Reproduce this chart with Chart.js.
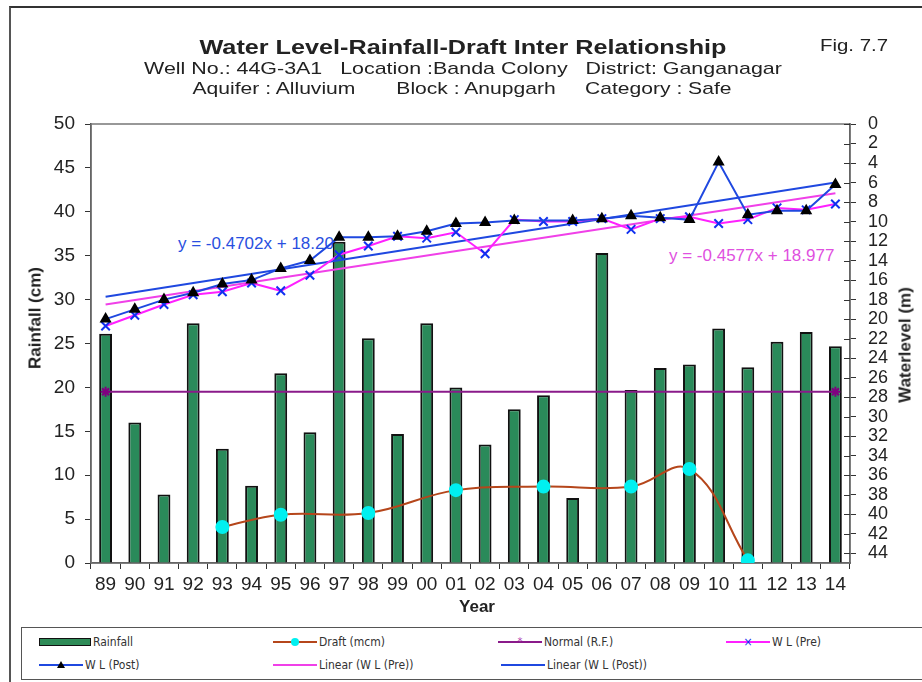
<!DOCTYPE html>
<html lang="en">
<head>
  <meta charset="UTF-8" />
  <title>Water Level-Rainfall-Draft Inter Relationship</title>
  <style>
    html, body {
      margin: 0;
      padding: 0;
      width: 922px;
      height: 682px;
      overflow: hidden;
      background: #fff;
      font-family: "Liberation Sans", Arial, sans-serif;
      color: #222;
    }
    #wrap { position: relative; width: 922px; height: 682px; }
    #chart { position: absolute; left: 0; top: 0; z-index: 2; }
    #frame {
      position: absolute; left: 9px; top: 6px; width: 930px; height: 700px;
      border-top: 2px solid #333; border-left: 2px solid #555;
    }
    .txt { position: absolute; white-space: pre; line-height: 1; z-index: 3; }
    #title { left: 463px; top: 36px; font-size: 21px; font-weight: bold; transform: translateX(-50%) scaleX(1.2); }
    #sub1 { left: 463px; top: 60px; font-size: 17px; transform: translateX(-50%) scaleX(1.26); }
    #sub2 { left: 462px; top: 80px; font-size: 17px; transform: translateX(-50%) scaleX(1.24); }
    #fig { left: 820px; top: 37px; font-size: 17px; transform-origin: left; transform: scaleX(1.2); }
    .axt { font-size: 17px; font-weight: bold; }
    #ylab { left: 35px; top: 318px; transform: translate(-50%, -50%) rotate(-90deg); }
    #y2lab { left: 905px; top: 345px; transform: translate(-50%, -50%) rotate(-90deg); }
    #xlab { left: 477px; top: 606px; transform: translate(-50%, -50%); }
    /* equations sit under the canvas so the 1997 bar hides the tail, as in the original */
    .eq { font-size: 17px; transform: translateY(-50%); z-index: 1; }
    #eqPost { left: 178px; top: 243px; color: #2a4fe0; }
    #eqPre { left: 669px; top: 255px; color: #e050e0; }
    #legend {
      position: absolute; left: 21px; top: 627px; width: 920px; height: 53px;
      border: 1.5px solid #555; box-sizing: border-box;
      font-family: "Liberation Sans Narrow", "DejaVu Sans Condensed", sans-serif;
      font-size: 12px; color: #333;
    }
    .item { position: absolute; display: flex; align-items: center; height: 14px; }
    .sw { position: relative; width: 44px; height: 14px; margin-right: 2px; }
    .sw.wide { width: 52px; }
    .sw .ln { position: absolute; left: 0; right: 0; top: 6px; height: 2px; }
    .sw .bar { position: absolute; left: 0; right: 0; top: 3px; height: 6px; background: #2e8b57; border: 1.5px solid #111; }
  </style>
</head>
<body>
<div id="wrap">
  <div id="frame"></div>
  <div class="txt eq" id="eqPost">y = -0.4702x + 18.20</div>
  <div class="txt eq" id="eqPre">y = -0.4577x + 18.977</div>

  <canvas id="chart" width="922" height="682"></canvas>

  <div class="txt" id="title">Water Level-Rainfall-Draft Inter Relationship</div>
  <div class="txt" id="sub1">Well No.: 44G-3A1   Location :Banda Colony   District: Ganganagar</div>
  <div class="txt" id="sub2">Aquifer : Alluvium       Block : Anupgarh     Category : Safe</div>
  <div class="txt" id="fig">Fig. 7.7</div>

  <div class="txt axt" id="ylab">Rainfall (cm)</div>
  <div class="txt axt" id="y2lab">Waterlevel (m)</div>
  <div class="txt axt" id="xlab">Year</div>

  <div id="legend"></div>
</div>

<script src="https://cdn.jsdelivr.net/npm/chart.js"></script>
<script>
  // categories (year, 1989-2014)
  const years = ['89','90','91','92','93','94','95','96','97','98','99','00','01',
                 '02','03','04','05','06','07','08','09','10','11','12','13','14'];

  // rainfall (cm), left axis
  const rainfall = [26.1, 16.0, 7.8, 27.3, 13.0, 8.8, 21.6, 14.9, 36.6, 25.6, 14.7, 27.3, 20.0,
                    13.5, 17.5, 19.1, 7.4, 35.3, 19.7, 22.2, 22.6, 26.7, 22.3, 25.2, 26.3, 24.7];

  // draft (mcm), left axis, only some years
  const draft = [null, null, null, null, 4.1, null, 5.5, null, null, 5.7, null, null, 8.3,
                 null, null, 8.7, null, null, 8.7, null, 10.7, null, 0.3, null, null, null];

  // normal rainfall (cm)
  const normalRF = [19.5, null, null, null, null, null, null, null, null, null, null, null, null,
                    null, null, null, null, null, null, null, null, null, null, null, null, 19.5];

  // water level below ground (m), right axis
  const wlPre = [20.7, 19.6, 18.5, 17.5, 17.2, 16.3, 17.1, 15.5, 13.4, 12.5, 11.5, 11.7, 11.1,
                 13.3, 9.8, 10.0, 10.0, 9.7, 10.8, 9.7, 9.5, 10.2, 9.8, 8.6, 8.8, 8.2];
  const wlPost = [20.0, 19.0, 18.0, 17.3, 16.4, 16.0, 14.8, 14.0, 11.6, 11.6, 11.5, 11.0, 10.2,
                  10.1, 9.9, null, 9.9, 9.7, 9.4, 9.6, 9.8, 3.9, 9.3, 8.9, 8.9, 6.2];

  // trend lines, start and end values (first and last year)
  const trendPre = [18.5, null, null, null, null, null, null, null, null, null, null, null, null,
                    null, null, null, null, null, null, null, null, null, null, null, null, 7.1];
  const trendPost = [17.7, null, null, null, null, null, null, null, null, null, null, null, null,
                     null, null, null, null, null, null, null, null, null, null, null, null, 6.0];

  const tickFont = { family: 'Liberation Sans', size: 19 };

  // border round the plot area, plus the inner half of the right axis ticks
  const plotBorder = {
    id: 'plotBorder',
    beforeDatasetsDraw(chart) {
      const a = chart.chartArea;
      const c = chart.ctx;
      c.save();
      c.strokeStyle = '#777';
      c.lineWidth = 1.5;
      c.strokeRect(a.left, a.top, a.right - a.left, a.bottom - a.top);
      const s = chart.scales.y2;
      c.strokeStyle = '#333';
      c.lineWidth = 1;
      c.beginPath();
      s.ticks.forEach((t, i) => {
        const y = Math.round(s.getPixelForTick(i)) + 0.5;
        c.moveTo(a.right - 6, y);
        c.lineTo(a.right, y);
      });
      c.stroke();
      c.restore();
    }
  };

  new Chart(document.getElementById('chart'), {
    data: {
      labels: years,
      datasets: [
        {
          type: 'line', label: 'W L (Post)', data: wlPost, yAxisID: 'y2', order: 1,
          borderColor: '#1f48e0', borderWidth: 2, spanGaps: true, tension: 0,
          pointStyle: 'triangle', pointRadius: 5, pointBackgroundColor: '#000', pointBorderColor: '#000'
        },
        {
          type: 'line', label: 'W L (Pre)', data: wlPre, yAxisID: 'y2', order: 2,
          borderColor: '#ff20ff', borderWidth: 2, tension: 0,
          pointStyle: 'crossRot', pointRadius: 6, pointBorderWidth: 2, pointBorderColor: '#1030f0'
        },
        {
          type: 'line', label: 'Linear (W L (Post))', data: trendPost, yAxisID: 'y2', order: 3,
          borderColor: '#1f48e0', borderWidth: 2, spanGaps: true, pointRadius: 0
        },
        {
          type: 'line', label: 'Linear (W L (Pre))', data: trendPre, yAxisID: 'y2', order: 4,
          borderColor: '#f040e8', borderWidth: 2, spanGaps: true, pointRadius: 0
        },
        {
          type: 'line', label: 'Draft (mcm)', data: draft, yAxisID: 'y', order: 5,
          borderColor: '#b5461b', borderWidth: 2, spanGaps: true, tension: 0.4,
          pointRadius: 6, pointBackgroundColor: '#00f0f0', pointBorderColor: '#00f0f0'
        },
        {
          type: 'line', label: 'Normal (R.F.)', data: normalRF, yAxisID: 'y', order: 6,
          borderColor: '#8a1a8a', borderWidth: 2, spanGaps: true,
          pointStyle: 'star', pointRadius: 5, pointBorderColor: '#800080', pointBorderWidth: 2
        },
        {
          type: 'bar', label: 'Rainfall', data: rainfall, yAxisID: 'y', order: 10,
          backgroundColor: '#2a8a5a', borderColor: '#111', borderWidth: 2,
          categoryPercentage: 1, barPercentage: 0.44
        }
      ]
    },
    options: {
      responsive: false,
      animation: false,
      layout: { padding: { top: 124, left: 10, right: 0, bottom: 67 } },
      plugins: { legend: { display: false }, tooltip: { enabled: false } },
      scales: {
        x: {
          type: 'category',
          grid: { offset: true, drawOnChartArea: false, tickLength: 6, color: '#333' },
          border: { color: '#333', width: 1.5 },
          ticks: { font: tickFont, color: '#222', maxRotation: 0, autoSkip: false, padding: 4 },
          afterFit(s) { s.height = 52; }
        },
        y: {
          position: 'left', min: 0, max: 50,
          grid: { drawOnChartArea: false, tickLength: 6, color: '#333' },
          border: { color: '#333', width: 1.5 },
          ticks: { stepSize: 5, font: tickFont, color: '#222', padding: 10 },
          afterFit(s) { s.width = 81; }
        },
        y2: {
          position: 'right', reverse: true, min: 0, max: 45,
          grid: { drawOnChartArea: false, tickLength: 6, color: '#333' },
          border: { color: '#333', width: 1.5 },
          ticks: { stepSize: 2, includeBounds: false, autoSkip: false, font: { family: 'Liberation Sans', size: 18 }, color: '#222', padding: 12 },
          afterFit(s) { s.width = 72; }
        }
      }
    },
    plugins: [plotBorder]
  });

  // legend in two rows, like the original
  const legendItems = [
    { text: 'Rainfall', x: 17, y: 7, kind: 'bar' },
    { text: 'Draft (mcm)', x: 251, y: 7, line: '#b5461b', mark: 'dot' },
    { text: 'Normal (R.F.)', x: 476, y: 7, line: '#8a1a8a', mark: 'star' },
    { text: 'W L (Pre)', x: 704, y: 7, line: '#ff20ff', mark: 'x' },
    { text: 'W L (Post)', x: 17, y: 30, line: '#1f48e0', mark: 'tri' },
    { text: 'Linear (W L (Pre))', x: 251, y: 30, line: '#f040e8' },
    { text: 'Linear (W L (Post))', x: 479, y: 30, line: '#1f48e0' }
  ];
  const legend = document.getElementById('legend');
  legendItems.forEach(it => {
    const d = document.createElement('div');
    d.className = 'item';
    d.style.left = it.x + 'px';
    d.style.top = it.y + 'px';
    let sw = '<div class="sw' + (it.kind === 'bar' ? ' wide' : '') + '">';
    if (it.kind === 'bar') {
      sw += '<div class="bar"></div>';
    } else {
      sw += '<div class="ln" style="background:' + it.line + '"></div>';
      if (it.mark === 'dot') sw += '<div style="position:absolute;left:18px;top:3px;width:8px;height:8px;border-radius:50%;background:#00f0f0"></div>';
      if (it.mark === 'star') sw += '<div style="position:absolute;left:18px;top:0;width:8px;font-size:11px;line-height:14px;color:#b040b0;text-align:center">*</div>';
      if (it.mark === 'x') sw += '<div style="position:absolute;left:17px;top:0;width:10px;font-size:12px;line-height:14px;color:#1030f0;text-align:center">×</div>';
      if (it.mark === 'tri') sw += '<div style="position:absolute;left:18px;top:3px;width:0;height:0;border-left:4px solid transparent;border-right:4px solid transparent;border-bottom:7px solid #000"></div>';
    }
    sw += '</div>';
    d.innerHTML = sw + '<span>' + it.text + '</span>';
    legend.appendChild(d);
  });
</script>
</body>
</html>
